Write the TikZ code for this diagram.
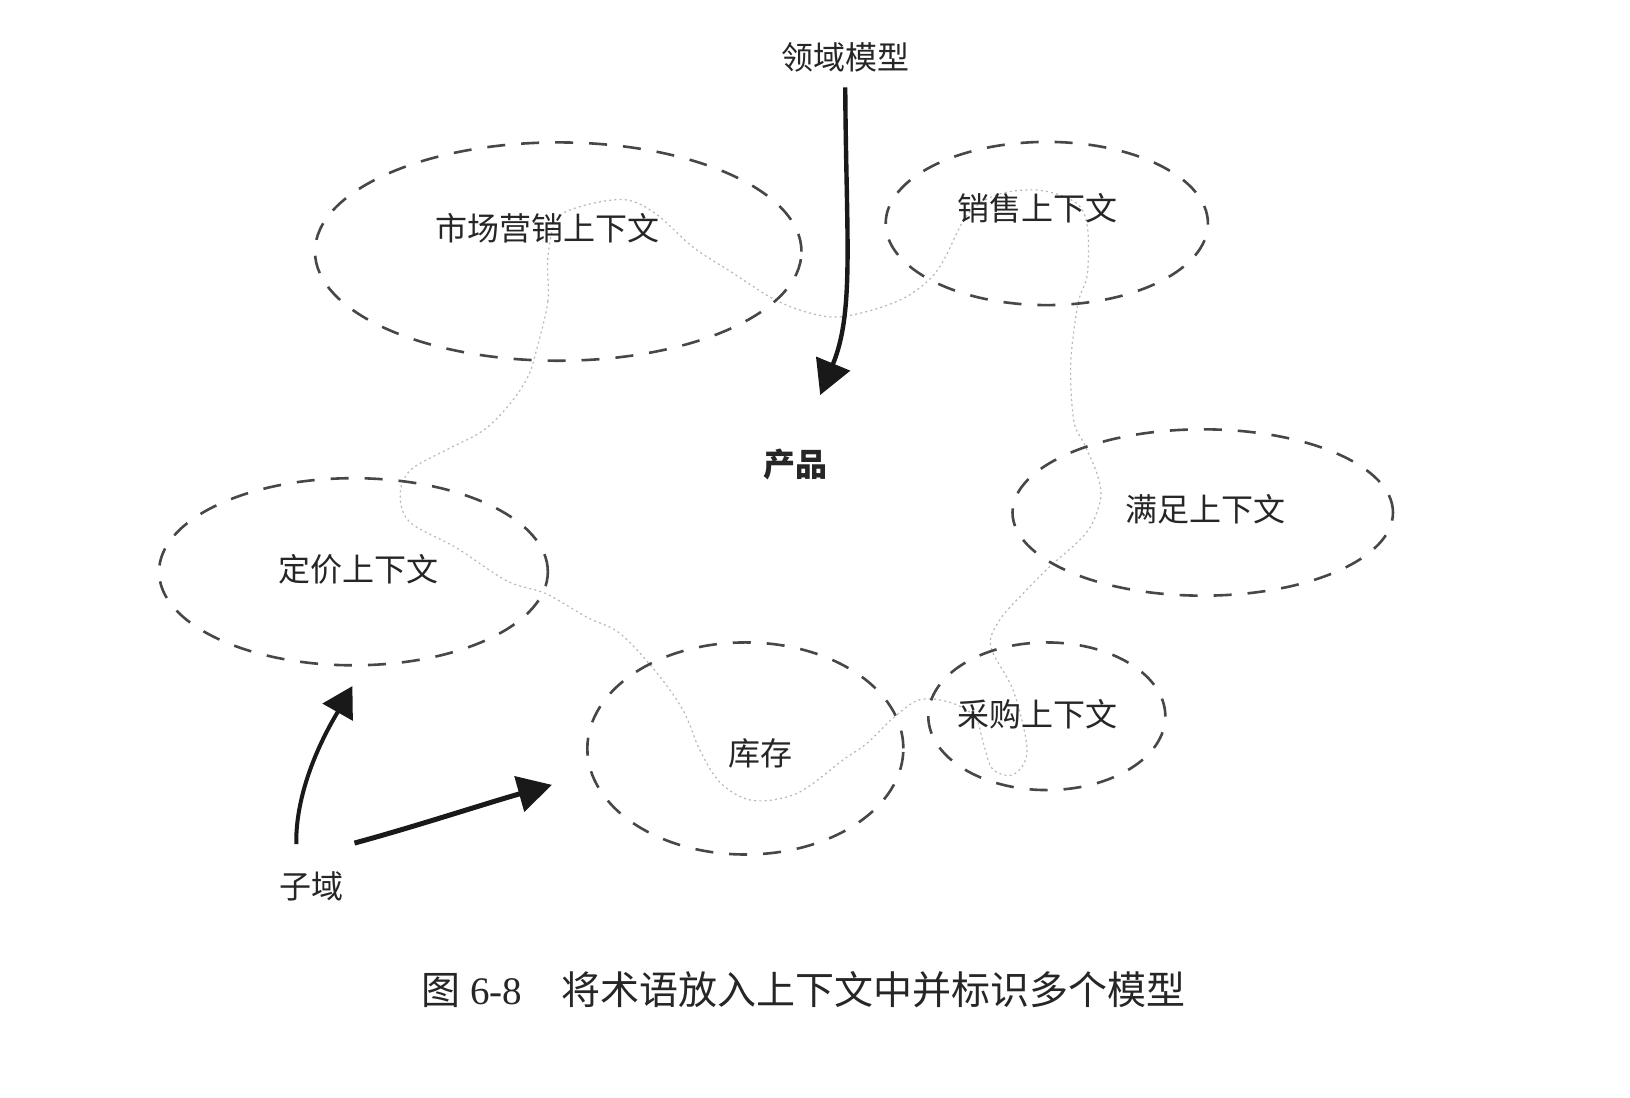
\documentclass[tikz,border=0pt]{standalone}
\usepackage{fontspec}
\setmainfont{Liberation Serif}
\newfontfamily\cjk{Noto Sans CJK SC}
\usetikzlibrary{shapes.geometric,arrows.meta}
\def\px{0.51975pt}
\begin{document}
\begin{tikzpicture}[x=0.51975pt,y=-0.51975pt,
  ctx/.style={draw=black!72, line width=1.3pt, dash pattern=on 9pt off 8pt, ellipse, inner sep=0pt, outer sep=0pt},
  lbl/.style={font=\cjk\fontsize{16}{18}\selectfont, text=black!85, inner sep=0pt},
  bigarrow/.style={draw=black!90, line width=2.2pt, -{Triangle[length=17pt,width=18pt]}},
  faint/.style={draw=black!28, line width=0.6pt, dash pattern=on 1pt off 1.6pt}]
\useasboundingbox (0,0) rectangle (1568,1056);
\fill[white] (0,0) rectangle (1568,1056);

% faint boundary of the product model
\draw[faint] plot[smooth cycle, tension=0.55] coordinates {
 (516,337) (527,290) (527,248) (535,212) (557,199) (600,192) (630,205)
 (667,238) (704,262) (743,287) (775,300) (805,305) (840,298) (871,286)
 (895,268) (909,248) (931,206) (960,187) (1000,183) (1035,195) (1046,218)
 (1046,264) (1037,292) (1030,350) (1033,405) (1043,427) (1055,455) (1059,478)
 (1050,505) (1036,522) (1011,544) (985,570) (962,596) (953,622) (975,665)
 (988,722) (975,745) (955,740) (946,715) (938,690) (915,676) (885,673)
 (860,690) (834,715) (811,731) (767,763) (724,770) (693,753) (673,721)
 (657,683) (630,645) (596,609) (565,594) (525,571) (488,559) (439,527)
 (394,502) (385,475) (395,452) (429,433) (465,414) (491,388) (508,362)};

% context ellipses
\node[ctx, minimum width=468*\px, minimum height=210*\px] (mkt) at (537,242) {};
\node[ctx, minimum width=310*\px, minimum height=157*\px] (sal) at (1007,215) {};
\node[ctx, minimum width=366*\px, minimum height=160*\px] (ful) at (1157,493) {};
\node[ctx, minimum width=374*\px, minimum height=180*\px] (pri) at (340,550) {};
\node[ctx, minimum width=304*\px, minimum height=204*\px] (inv) at (717,720) {};
\node[ctx, minimum width=228*\px, minimum height=142*\px] (pur) at (1007,689) {};

% labels
\node[lbl] (mktl) at (527,220) {市场营销上下文};
\node[lbl] (sall) at (998,200) {销售上下文};
\node[lbl] (full) at (1160,490) {满足上下文};
\node[lbl] (pril) at (345,548) {定价上下文};
\node[lbl] (invl) at (732,725) {库存};
\node[lbl] (purl) at (998,687) {采购上下文};
\node[lbl, font=\cjk\bfseries\fontsize{16}{18}\selectfont] (prod) at (765,447) {产品};
\node[lbl] (dm) at (813,55) {领域模型};
\node[lbl] (sub) at (300,853) {子域};

% arrows
\coordinate (dmtip) at (789,380);
\draw[bigarrow, shorten <=7.5pt] (dm.south) .. controls (814,230) and (822,300) .. (dmtip);
\coordinate (s1tail) at (285,812);
\coordinate (s1tip) at (339,660);
\draw[bigarrow, line width=2pt, -{Triangle[length=15pt,width=17pt]}] (s1tail) .. controls (284,750) and (322,690) .. (s1tip);
\coordinate (s2tail) at (341,811);
\coordinate (s2tip) at (531,755);
\draw[bigarrow, line width=2.5pt] (s2tail) .. controls (400,795) and (470,772) .. (s2tip);

% caption
\node[font=\fontsize{19.5}{22}\selectfont, text=black!85, inner sep=0pt] (cap) at (773,952)
  {{\cjk 图} 6-8\hspace{1em}{\cjk 将术语放入上下文中并标识多个模型}};
\end{tikzpicture}
\end{document}
